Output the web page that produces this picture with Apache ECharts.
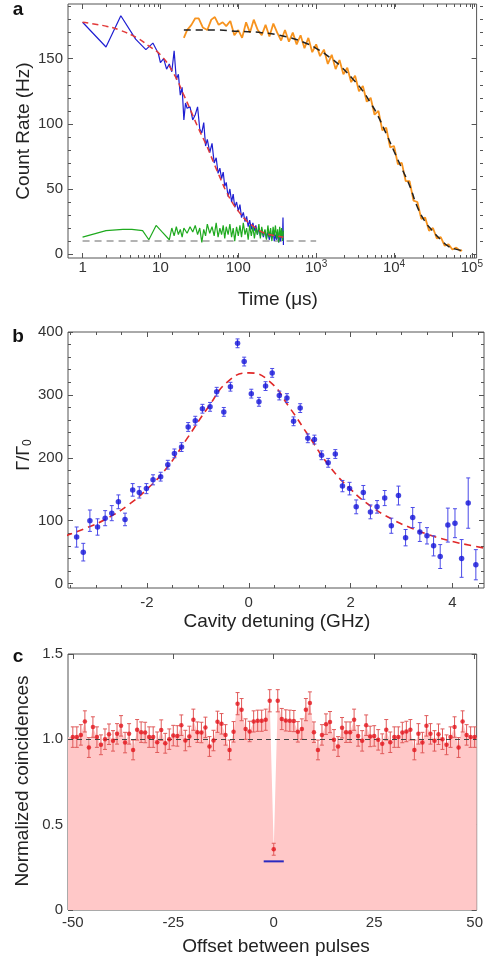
<!DOCTYPE html>
<html><head><meta charset="utf-8">
<script src="https://cdn.jsdelivr.net/npm/echarts@6/dist/echarts.min.js"></script>
<style>html,body{margin:0;padding:0;background:#fff}#chart{width:486px;height:962px}</style>
</head><body><div id="chart"></div>
<script>
// ---------- Panel a : count rate vs time (log axis) ----------
const aBlue = [[1,178],[2,159],[3.1,183],[4.8,165],[6.5,157],[8,162],[9.4,154],[10,147],[11,150],[12,142],[13,146],[14,140],[15,156],[16,134],[17,138],[18,122],[19,128],[20,103],[21,116],[22,112],[24,113],[26,103],[28,107],[30,113],[32,96],[34,93],[36,101],[38,83],[40,88],[43,78],[46,85],[49,70],[52,74],[55,62],[58,66],[61,58],[64,63],[67,52],[70,55],[74,44],[78,50],[82,40],[86,46],[90,36],[95,40],[100,33],[105,38],[110,28],[116,32],[122,25],[128,29],[134,21],[140,26],[147,19],[154,24],[161,18],[168,22],[176,15],[184,20],[192,14],[200,19],[210,13],[220,18],[230,12],[240,17],[250,11],[260,16],[270,12],[280,18],[290,10],[300,15],[310,11],[320,17],[330,9],[340,14],[350,10],[360,16],[370,12],[375,28],[380,7]];
const aBlueFit = [[1,178],[2,175],[3,172],[5,166],[7,160],[10,153],[15,138],[20,122],[25,109],[30,98],[40,82],[50,68],[60,57],[70,48],[85,39],[100,33],[130,25],[160,21],[200,17],[250,15],[300,14],[380,13]];
const aGreen = [[1,13],[2,18],[3.3,19],[4.3,19],[5.9,18],[7.1,11],[8.8,22],[10.5,17],[13,11],[14,20],[15,14],[16,21],[17,15],[18,19],[19,13],[20,20],[22,16],[24,21],[26,17],[28,22],[30,15],[32,20],[34,9],[36,19],[38,14],[40,23],[43,16],[46,21],[49,14],[52,24],[55,13],[58,20],[61,15],[64,22],[67,12],[70,21],[74,15],[78,23],[82,13],[86,20],[90,10],[95,21],[100,14],[105,22],[110,13],[116,24],[122,15],[128,20],[134,11],[140,22],[147,14],[154,21],[161,12],[168,20],[176,15],[184,23],[192,12],[200,21],[210,14],[220,19],[230,11],[240,22],[250,13],[260,20],[270,10],[280,21],[290,14],[300,22],[310,12],[320,19],[330,9],[340,21],[350,13],[360,20],[370,10],[380,18]];
const aBackground = [[1,10],[1000,10]];
const aOrange = [[20,166],[22,172],[25,176],[28,181],[31,181],[35,174],[40,172],[45,180],[50,182],[56,176],[63,178],[70,175],[79,179],[89,168],[100,172],[112,166],[126,178],[141,170],[158,180],[178,172],[200,168],[224,176],[251,167],[282,177],[316,170],[355,164],[398,172],[447,163],[501,170],[562,161],[631,168],[708,158],[794,166],[891,155],[1000,161],[1122,152],[1259,157],[1413,146],[1585,153],[1778,142],[1995,149],[2239,138],[2512,143],[2818,132],[3162,137],[3548,125],[3981,129],[4467,117],[5012,120],[5623,107],[6310,110],[7079,95],[7943,97],[8913,82],[10000,83],[11220,69],[12589,70],[14125,56],[15849,56],[17783,41],[19953,40],[22387,27],[25119,28],[28184,18],[31623,20],[35481,12],[39811,13],[44668,6.5],[50119,7.5],[56234,3.5],[63096,5],[70795,2.5],[75000,3]];
const aOrangeFit = [[20,172],[50,172],[100,171],[200,170],[400,167],[700,162.5],[1000,158],[1500,151],[2000,145],[3000,134],[4000,125],[5000,116],[6000,108],[8000,92],[10000,79],[13000,64],[16000,52],[20000,36],[25000,25],[30000,19],[40000,11],[50000,6],[60000,4],[75000,2.7]];
const aMajorX = [1,10,100,1000,10000,100000];
const aMinorX = [2,3,4,5,6,7,8,9,20,30,40,50,60,70,80,90,200,300,400,500,600,700,800,900,2000,3000,4000,5000,6000,7000,8000,9000,20000,30000,40000,50000,60000,70000,80000,90000];
const aMajorY = [0,50,100,150];
const aMinorY = [10,20,30,40,60,70,80,90,110,120,130,140,160,170,180,190];

// ---------- Panel b : Gamma/Gamma0 vs cavity detuning ----------
const bX = [-3.38,-3.25,-3.12,-2.97,-2.82,-2.69,-2.56,-2.43,-2.28,-2.15,-2.01,-1.88,-1.73,-1.59,-1.46,-1.32,-1.19,-1.05,-0.91,-0.76,-0.63,-0.49,-0.36,-0.22,-0.09,0.05,0.20,0.33,0.46,0.60,0.75,0.88,1.01,1.16,1.29,1.43,1.56,1.70,1.84,1.98,2.11,2.25,2.39,2.52,2.67,2.80,2.94,3.08,3.22,3.36,3.50,3.63,3.76,3.91,4.05,4.18,4.31,4.46];
const bY = [74,50,100,90,104,112,130,102,149,145,151,165,170,189,207,217,249,259,278,281,305,273,313,382,353,302,289,314,335,299,295,258,279,231,229,204,192,206,155,151,122,145,114,122,136,92,140,73,105,82,76,60,43,93,96,40,128,30];
const bErr = [16,14,17,13,12,12,11,10,10,9,8,8,7,7,7,7,7,7,7,7,7,7,7,7,7,7,7,7,7,7,7,7,7,7,7,7,7,7,9,10,11,11,11,10,12,12,15,13,16,15,13,16,19,27,23,30,40,24];
const bFitX = [-3.6,-3.2,-2.8,-2.4,-2.0,-1.6,-1.2,-0.8,-0.4,0,0.4,0.8,1.2,1.6,2.0,2.4,2.8,3.2,3.6,4.0,4.4,4.8];
const bFitY = [76,88,103,123,150,185,232,280,322,335,322,280,232,185,150,123,103,88,76,67,60,54];
const bMajorX = [-2,0,2,4];
const bMinorX = [-3.5,-3,-2.5,-1.5,-1,-0.5,0.5,1,1.5,2.5,3,3.5,4.5];
const bMajorY = [0,100,200,300,400];
const bMinorY = [20,40,60,80,120,140,160,180,220,240,260,280,320,340,360,380];

// ---------- Panel c : normalized coincidences ----------
const cOffset = [-50,-49,-48,-47,-46,-45,-44,-43,-42,-41,-40,-39,-38,-37,-36,-35,-34,-33,-32,-31,-30,-29,-28,-27,-26,-25,-24,-23,-22,-21,-20,-19,-18,-17,-16,-15,-14,-13,-12,-11,-10,-9,-8,-7,-6,-5,-4,-3,-2,-1,0,1,2,3,4,5,6,7,8,9,10,11,12,13,14,15,16,17,18,19,20,21,22,23,24,25,26,27,28,29,30,31,32,33,34,35,36,37,38,39,40,41,42,43,44,45,46,47,48,49,50];
const cValue = [1.013,1.013,1.026,1.105,0.952,1.072,1.013,0.968,1.001,1.030,
  0.991,1.032,1.079,0.981,1.032,0.938,1.056,1.042,1.040,1.013,
  1.013,0.983,1.054,0.977,1.001,1.022,1.020,1.083,0.993,1.017,
  1.115,1.042,1.040,1.070,0.958,0.993,1.103,1.091,1.026,0.938,
  1.044,1.209,1.174,1.060,1.046,1.105,1.109,1.109,1.115,1.226,
  0.356,
  1.226,1.119,1.111,1.109,1.107,1.044,1.060,1.174,1.213,1.042,
  0.938,1.026,1.089,1.101,0.997,0.958,1.068,1.042,1.042,1.115,
  1.020,0.991,1.083,1.017,1.020,0.997,0.974,1.056,0.983,1.013,
  1.013,1.040,1.046,1.056,0.938,1.032,0.981,1.079,1.032,0.991,
  1.030,1.001,0.968,1.013,1.072,0.952,1.105,1.026,1.013,1.013];
const cErr = [0.06,0.06,0.06,0.062,0.058,0.06,0.06,0.058,0.06,0.06,
  0.06,0.06,0.06,0.06,0.06,0.058,0.06,0.06,0.06,0.06,
  0.06,0.06,0.06,0.058,0.06,0.06,0.06,0.06,0.06,0.06,
  0.062,0.06,0.06,0.06,0.058,0.06,0.062,0.06,0.06,0.058,
  0.06,0.065,0.065,0.06,0.06,0.062,0.062,0.062,0.062,0.065,
  0.035,
  0.065,0.062,0.062,0.062,0.062,0.06,0.06,0.065,0.065,0.06,
  0.058,0.06,0.06,0.062,0.06,0.058,0.06,0.06,0.06,0.062,
  0.06,0.06,0.06,0.06,0.06,0.06,0.058,0.06,0.06,0.06,
  0.06,0.06,0.06,0.06,0.058,0.06,0.06,0.06,0.06,0.06,
  0.06,0.06,0.058,0.06,0.06,0.058,0.062,0.06,0.06,0.06];
// fill level read at the left / right frame edges
const cFillLeft = [-51.2, 1.013];
const cFillRight = [50.5, 1.013];
const cReference = [[-2.5,0.285],[2.5,0.285]];
const cMajorX = [-50,-25,0,25,50];
const cMajorY = [0,0.5,1,1.5];

// ---------- styling helpers ----------
const FONT = '"Liberation Sans", Arial, sans-serif';
const FRAME = '#555';
const LABEL = '#333';

function ax(grid, pos, type, min, max, ticks, len, labels, extra) {
  const a = {
    type: type, gridIndex: grid, position: pos, min: min, max: max,
    axisLine: {show: false, onZero: false},
    splitLine: {show: false},
    minorTick: {show: false},
    axisTick: {show: true, inside: true, length: len, lineStyle: {color: FRAME, width: 1}, customValues: ticks},
    axisLabel: {show: false},
    silent: true
  };
  if (type === 'log') a.logBase = 10;
  if (labels) {
    a.axisLabel = Object.assign({show: true, customValues: labels, color: LABEL, fontSize: 15, fontFamily: FONT}, extra || {});
  }
  return a;
}

function logFmt(v) {
  const k = Math.round(Math.log10(v));
  return k < 3 ? '{n|' + Math.round(v) + '}' : '{n|10}{s|' + k + '}';
}

function errSeries(xi, yi, data, color, cap, z) {
  return {
    type: 'custom', xAxisIndex: xi, yAxisIndex: yi, data: data, z: z, silent: true,
    encode: {x: 0, y: 1},
    renderItem: function (params, api) {
      const x = api.value(0), y = api.value(1), e = api.value(2);
      const p1 = api.coord([x, y + e]), p2 = api.coord([x, y - e]);
      const st = {stroke: color, lineWidth: 1};
      return {type: 'group', children: [
        {type: 'line', shape: {x1: p1[0], y1: p1[1], x2: p2[0], y2: p2[1]}, style: st},
        {type: 'line', shape: {x1: p1[0] - cap, y1: p1[1], x2: p1[0] + cap, y2: p1[1]}, style: st},
        {type: 'line', shape: {x1: p2[0] - cap, y1: p2[1], x2: p2[0] + cap, y2: p2[1]}, style: st}
      ]};
    }
  };
}

const gA = {left: 68, top: 4, width: 415, height: 254};
const gB = {left: 68, top: 332, width: 416, height: 256};
const gC = {left: 68, top: 654, width: 414, height: 256};
const frame = {show: true, borderColor: FRAME, borderWidth: 1, backgroundColor: 'transparent'};

const logRich = {
  n: {fontSize: 15, fontFamily: FONT, color: LABEL, lineHeight: 18},
  s: {fontSize: 10, fontFamily: FONT, color: LABEL, lineHeight: 10, verticalAlign: 'top'}
};

const cPoints = cOffset.map(function (x, i) { return [x, cValue[i]]; });

const option = {
  animation: false,
  backgroundColor: '#fff',
  grid: [
    Object.assign({}, gA, frame), Object.assign({}, gA, {show: false}),
    Object.assign({}, gB, frame), Object.assign({}, gB, {show: false}),
    Object.assign({}, gC, frame)
  ],
  xAxis: [
    ax(0, 'bottom', 'log', 0.65, 115000, aMajorX, 5, aMajorX, {margin: 1, formatter: logFmt, rich: logRich}),
    ax(0, 'top', 'log', 0.65, 115000, aMajorX, 5),
    ax(1, 'bottom', 'log', 0.65, 115000, aMinorX, 3),
    ax(1, 'top', 'log', 0.65, 115000, aMinorX, 3),
    ax(2, 'bottom', 'value', -3.55, 4.62, bMajorX, 5, bMajorX, {margin: 7}),
    ax(2, 'top', 'value', -3.55, 4.62, bMajorX, 5),
    ax(3, 'bottom', 'value', -3.55, 4.62, bMinorX, 3),
    ax(3, 'top', 'value', -3.55, 4.62, bMinorX, 3),
    ax(4, 'bottom', 'value', -51.2, 50.5, cMajorX, 5, cMajorX, {margin: 5}),
    ax(4, 'top', 'value', -51.2, 50.5, cMajorX, 5)
  ],
  yAxis: [
    ax(0, 'left', 'value', -3, 192, aMajorY, 5, aMajorY, {margin: 5}),
    ax(0, 'right', 'value', -3, 192, aMajorY, 5),
    ax(1, 'left', 'value', -3, 192, aMinorY, 3),
    ax(1, 'right', 'value', -3, 192, aMinorY, 3),
    ax(2, 'left', 'value', -7, 400, bMajorY, 5, bMajorY, {margin: 5}),
    ax(2, 'right', 'value', -7, 400, bMajorY, 5),
    ax(3, 'left', 'value', -7, 400, bMinorY, 3),
    ax(3, 'right', 'value', -7, 400, bMinorY, 3),
    ax(4, 'left', 'value', 0, 1.5, cMajorY, 5, cMajorY, {margin: 5, formatter: function (v) { return v === 0 ? '0' : v.toFixed(1); }}),
    ax(4, 'right', 'value', 0, 1.5, cMajorY, 5)
  ],
  series: [
    // panel a
    {type: 'line', xAxisIndex: 0, yAxisIndex: 0, data: aBackground, symbol: 'none', silent: true,
      lineStyle: {color: '#9a9a9a', width: 1.5, type: [7, 5]}, z: 2},
    {type: 'line', xAxisIndex: 0, yAxisIndex: 0, data: aBlue, symbol: 'none', silent: true,
      lineStyle: {color: '#1f1fd2', width: 1.2}, z: 3},
    {type: 'line', xAxisIndex: 0, yAxisIndex: 0, data: aGreen, symbol: 'none', silent: true,
      lineStyle: {color: '#1faa1f', width: 1.2}, z: 4},
    {type: 'line', xAxisIndex: 0, yAxisIndex: 0, data: aBlueFit, symbol: 'none', smooth: true, silent: true,
      lineStyle: {color: '#e23a3a', width: 1.5, type: [6, 4]}, z: 5},
    {type: 'line', xAxisIndex: 0, yAxisIndex: 0, data: aOrange, symbol: 'none', silent: true,
      lineStyle: {color: '#f7931e', width: 1.8}, z: 3},
    {type: 'line', xAxisIndex: 0, yAxisIndex: 0, data: aOrangeFit, symbol: 'none', smooth: true, silent: true,
      lineStyle: {color: '#222', width: 1.5, type: [7, 5]}, z: 6},
    // panel b
    {type: 'line', xAxisIndex: 4, yAxisIndex: 4, data: bFitX.map(function (x, i) { return [x, bFitY[i]]; }),
      symbol: 'none', smooth: true, silent: true, lineStyle: {color: '#e02828', width: 1.6, type: [7, 5]}, z: 3},
    errSeries(4, 4, bX.map(function (x, i) { return [x, bY[i], bErr[i]]; }), '#4a4ae8', 2, 4),
    {type: 'scatter', xAxisIndex: 4, yAxisIndex: 4, data: bX.map(function (x, i) { return [x, bY[i]]; }),
      symbolSize: 5.5, silent: true, itemStyle: {color: '#1414d8'}, z: 5},
    // panel c
    {type: 'line', xAxisIndex: 8, yAxisIndex: 8, data: [cFillLeft].concat(cPoints, [cFillRight]),
      symbol: 'none', silent: true, lineStyle: {width: 0, opacity: 0},
      areaStyle: {color: '#ffc8c8', opacity: 1, origin: 'start'}, z: 1,
      markLine: {symbol: 'none', silent: true, label: {show: false},
        lineStyle: {color: '#444', width: 1.2, type: [5, 4]}, data: [{yAxis: 1}]}},
    {type: 'line', xAxisIndex: 8, yAxisIndex: 8, data: cReference, symbol: 'none', silent: true,
      lineStyle: {color: '#2a2ac0', width: 2}, z: 3},
    errSeries(8, 8, cOffset.map(function (x, i) { return [x, cValue[i], cErr[i]]; }), '#e05a5a', 2, 4),
    {type: 'scatter', xAxisIndex: 8, yAxisIndex: 8, data: cPoints,
      symbolSize: 4.5, silent: true, itemStyle: {color: '#e3141c'}, z: 5}
  ],
  graphic: [
    {type: 'text', x: 18, y: 10, style: {text: 'a', font: 'bold 19px ' + FONT, fill: '#111', align: 'center', verticalAlign: 'middle'}},
    {type: 'text', x: 18, y: 337, style: {text: 'b', font: 'bold 19px ' + FONT, fill: '#111', align: 'center', verticalAlign: 'middle'}},
    {type: 'text', x: 18, y: 657, style: {text: 'c', font: 'bold 19px ' + FONT, fill: '#111', align: 'center', verticalAlign: 'middle'}},
    {type: 'text', x: 278, y: 300, style: {text: 'Time (\u03bcs)', font: '19px ' + FONT, fill: '#222', align: 'center', verticalAlign: 'middle'}},
    {type: 'text', x: 24, y: 131, rotation: Math.PI / 2, style: {text: 'Count Rate (Hz)', font: '19px ' + FONT, fill: '#222', align: 'center', verticalAlign: 'middle'}},
    {type: 'text', x: 277, y: 622, style: {text: 'Cavity detuning (GHz)', font: '19px ' + FONT, fill: '#222', align: 'center', verticalAlign: 'middle'}},
    {type: 'text', x: 24, y: 455, rotation: Math.PI / 2, style: {text: '{g|\u0393/\u0393}{s|0}', align: 'center', verticalAlign: 'middle',
      rich: {g: {font: '18px ' + FONT, fill: '#222'}, s: {font: '12px ' + FONT, fill: '#222', padding: [8, 0, 0, 0]}}}},
    {type: 'text', x: 276, y: 947, style: {text: 'Offset between pulses', font: '19px ' + FONT, fill: '#222', align: 'center', verticalAlign: 'middle'}},
    {type: 'text', x: 23, y: 781, rotation: Math.PI / 2, style: {text: 'Normalized coincidences', font: '19px ' + FONT, fill: '#222', align: 'center', verticalAlign: 'middle'}}
  ]
};

const chart = echarts.init(document.getElementById('chart'), null, {renderer: 'canvas'});
chart.setOption(option);
</script></body></html>
